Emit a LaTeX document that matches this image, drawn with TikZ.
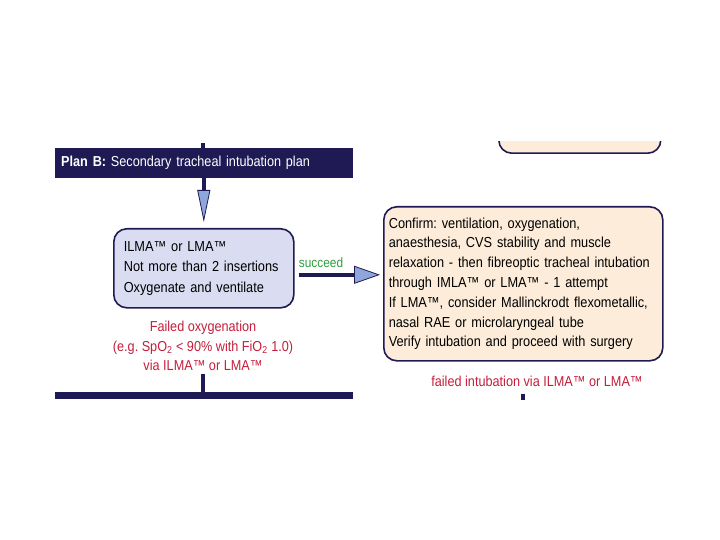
\documentclass[tikz,border=0pt]{standalone}
\usepackage{fontspec}
\setmainfont{Liberation Sans}[FakeStretch=0.88]
\usetikzlibrary{arrows.meta}
\frenchspacing
\hyphenpenalty=10000

\definecolor{planblue}{RGB}{32,26,84}
\definecolor{arrowblue}{RGB}{143,166,218}
\definecolor{lilac}{RGB}{218,221,242}
\definecolor{peach}{RGB}{252,236,217}
\definecolor{failred}{RGB}{196,30,58}
\definecolor{okgreen}{RGB}{46,158,62}

\tikzset{
  planbar/.style={rectangle,fill=planblue,draw=none,inner sep=0pt,anchor=north west},
  actbox/.style={rectangle,rounded corners=13pt,draw=planblue,line width=1.6pt,
    anchor=north west,align=left,font=\fontsize{14.5}{20.5}\selectfont},
  redtext/.style={text=failred,align=center,font=\fontsize{14.4}{19.5}\selectfont},
  stub/.style={planblue,line width=3.5pt},
  downarrow/.style={planblue,line width=4pt,
    -{Triangle[length=32pt,width=13pt,fill=arrowblue,line width=0.8pt]}},
  rightarrow/.style={planblue,line width=4pt,
    -{Triangle[length=26pt,width=18pt,fill=arrowblue,line width=0.8pt]}}
}

\begin{document}
\begin{tikzpicture}[x=1pt,y=-1pt]
\useasboundingbox (0,0) rectangle (720,540);

% box of the plan above, cut off
\begin{scope}
\clip (480,142) rectangle (680,160);
\node[actbox,fill=peach,minimum width=162pt,minimum height=60pt,anchor=south west](prev) at(498,154){};
\end{scope}

% plan B
\node[planbar,minimum width=298pt,minimum height=30pt,text=white,
  text width=286pt,inner xsep=6pt,align=left,font=\fontsize{14.4}{16}\selectfont](planB) at(55,148)
  {\textbf{Plan B:} Secondary tracheal intubation plan};
\coordinate(intop) at(203,143);

\node[actbox,fill=lilac,text width=160pt,inner xsep=10pt,minimum height=79pt](oxy) at(113,228)
  {ILMA™ or LMA™\\Not more than 2 insertions\\Oxygenate and ventilate};

\node[actbox,fill=peach,text width=269pt,inner xsep=5pt,minimum height=154pt,
  font=\fontsize{14.5}{19.8}\selectfont](confirm) at(383,206)
  {Confirm: ventilation, oxygenation,\\
   anaesthesia, CVS stability and muscle\\
   relaxation - then fibreoptic tracheal intubation\\
   through IMLA™ or LMA™ - 1 attempt\\
   If LMA™, consider Mallinckrodt flexometallic,\\
   nasal RAE or microlaryngeal tube\\
   Verify intubation and proceed with surgery};

\node[text=okgreen,font=\fontsize{13.5}{14}\selectfont](succ) at(321,263){succeed};

\node[redtext](failox) at(203,346)
  {Failed oxygenation\\(e.g. SpO\textsubscript{2} < 90\% with FiO\textsubscript{2} 1.0)\\via ILMA™ or LMA™};
\node[redtext](failint) at(537,381){failed intubation via ILMA™ or LMA™};

% plan C, cut off
\node[planbar,minimum width=298pt,minimum height=7pt](planC) at(55,392){};
\coordinate(outint) at(523,400);

\draw[stub](intop)--(intop |- planB.north);
\draw[downarrow,shorten >=6pt](planB.south -| oxy.north)--(oxy.north);
\draw[rightarrow,shorten <=4pt,shorten >=3pt]([yshift=-6.5pt]oxy.east)--([yshift=-6.5pt]oxy.east -| confirm.west);
\draw[stub](failox.south)--(failox.south |- planC.north);
\draw[stub,shorten <=4pt](failint.south -| outint)--(outint);
\end{tikzpicture}
\end{document}
